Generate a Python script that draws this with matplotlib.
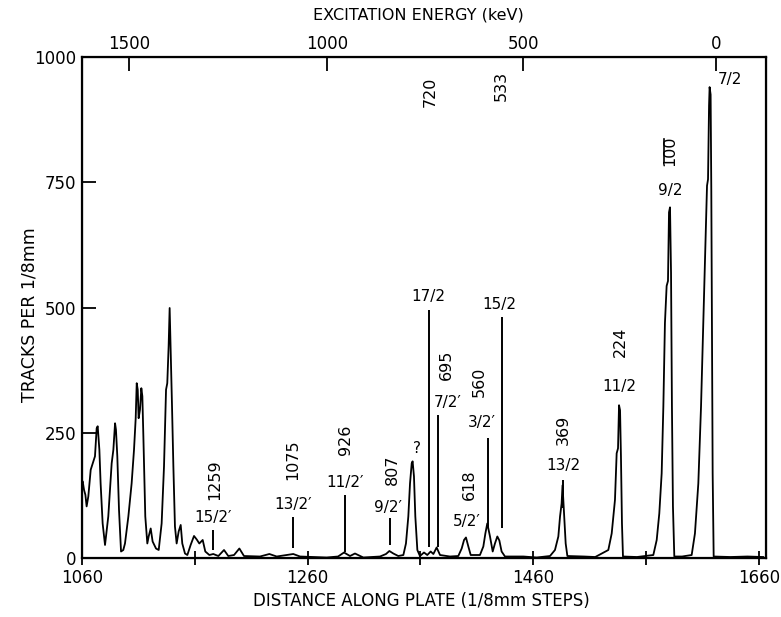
import numpy as np
import matplotlib
matplotlib.use('Agg')
from matplotlib import pyplot as plt

plt.rcParams['font.family'] = ['DejaVu Sans']

# spectrum: position (1/8mm steps), tracks per 1/8mm
dist = [1060.0, 1060.6, 1061.8, 1063.0, 1064.1, 1065.6, 1067.7, 1069.5, 1071.5, 1073.0,
        1073.9, 1075.4, 1076.5, 1078.3, 1080.4, 1083.3, 1086.3, 1087.8, 1089.3, 1090.1,
        1091.3, 1092.8, 1094.6, 1096.6, 1098.1, 1101.1, 1104.0, 1106.1, 1107.6, 1108.5,
        1109.4, 1110.2, 1111.4, 1112.6, 1113.5, 1114.4, 1116.1, 1117.9, 1119.1, 1120.9,
        1122.6, 1125.6, 1128.0, 1130.6, 1132.7, 1134.5, 1135.6, 1136.8, 1137.7, 1138.6,
        1139.8, 1141.0, 1142.4, 1143.9, 1145.7, 1147.5, 1148.9, 1151.3, 1153.4, 1156.3,
        1159.3, 1161.7, 1164.0, 1167.0, 1169.3, 1172.9, 1176.4, 1180.9, 1185.9, 1189.7,
        1194.8, 1199.5, 1203.6, 1217.8, 1226.1, 1232.6, 1241.4, 1247.3, 1253.3, 1276.9,
        1287.0, 1292.3, 1297.6, 1302.0, 1309.4, 1324.2, 1329.5, 1332.5, 1336.0, 1340.4,
        1344.9, 1347.2, 1349.3, 1350.8, 1352.3, 1353.1, 1354.3, 1355.5, 1357.3, 1359.6,
        1363.2, 1366.1, 1369.1, 1371.5, 1374.4, 1377.4, 1386.2, 1393.6, 1396.6, 1398.7,
        1400.4, 1402.5, 1404.6, 1412.8, 1415.8, 1417.6, 1419.3, 1421.7, 1424.1, 1426.1,
        1428.2, 1430.0, 1432.0, 1435.0, 1451.3, 1463.1, 1474.9, 1479.3, 1482.3, 1483.8,
        1485.2, 1486.0, 1486.6, 1487.3, 1488.8, 1490.3, 1505.0, 1515.0, 1526.6, 1529.6,
        1532.5, 1534.0, 1535.2, 1536.1, 1537.0, 1537.8, 1538.7, 1539.6, 1552.0, 1566.5,
        1569.5, 1571.8, 1573.9, 1575.4, 1576.8, 1578.3, 1579.5, 1580.4, 1581.3, 1582.2,
        1583.0, 1583.9, 1585.1, 1592.0, 1600.5, 1603.4, 1606.4, 1608.8, 1610.8, 1612.6,
        1614.1, 1615.0, 1615.9, 1616.4, 1617.3, 1617.9, 1618.5, 1619.1, 1620.0, 1635.0,
        1650.0, 1664.0]
tracks = [150, 153, 136, 126, 103, 123, 176, 189, 203, 259,
          263, 216, 149, 69, 26, 83, 189, 216, 269, 256,
          203, 96, 13, 16, 29, 83, 149, 216, 279, 349,
          336, 279, 296, 339, 323, 243, 83, 29, 43, 59,
          33, 19, 16, 69, 183, 336, 349, 423, 499, 416,
          303, 183, 63, 29, 53, 66, 29, 9, 6, 26,
          44, 37, 29, 36, 13, 6, 8, 4, 16, 4,
          6, 19, 4, 3, 8, 3, 6, 8, 3, 1,
          3, 11, 4, 9, 1, 3, 8, 14, 9, 4,
          6, 29, 83, 149, 189, 193, 163, 83, 16, 4,
          11, 6, 13, 8, 21, 6, 3, 4, 19, 36,
          41, 23, 6, 6, 23, 49, 69, 43, 13, 29,
          43, 35, 13, 3, 3, 1, 4, 16, 43, 83,
          109, 145, 120, 89, 29, 4, 3, 2, 16, 49,
          116, 209, 219, 305, 295, 203, 69, 3, 2, 6,
          36, 89, 169, 303, 469, 543, 553, 690, 700, 569,
          303, 103, 3, 3, 6, 49, 149, 303, 469, 623,
          743, 756, 903, 940, 925, 736, 436, 169, 3, 2,
          3, 2]

# excitation energy calibration (top scale)
energy_ticks = [1500, 1000, 500, 0]
energy_pos = [1101.7, 1277.2, 1451.0, 1622.1]

# level energies (rotated) and spins
lev_text = ['1259', '1075', '926', '807', '720', '695', '560', '618', '533', '369', '224', '100']
lev_x = [1177.9, 1247.0, 1294.0, 1335.4, 1368.5, 1383.3, 1412.0, 1403.1, 1431.4, 1486.4, 1537.0, 1581.3]
lev_y = [156, 196, 236, 176, 930, 386, 352, 146, 942, 256, 432, 813]

spin_text = ['15/2\u2032', '13/2\u2032', '11/2\u2032', '9/2\u2032', '?', '17/2', '7/2\u2032',
             '3/2\u2032', '5/2\u2032', '15/2', '13/2', '11/2', '9/2', '7/2']
spin_x = [1176.1, 1246.8, 1293.2, 1331.3, 1357.3, 1366.7, 1384.5, 1414.3, 1401.0, 1429.7,
          1486.4, 1536.3, 1581.3, 1634.5]
spin_y = [80, 106, 150, 100, 218, 522, 310, 270, 72, 506, 184, 342, 733, 956]

# marker lines for the weak groups
mark_x = [1176.4, 1246.8, 1293.2, 1333.0, 1367.6, 1375.9, 1419.9, 1432.1, 1486.1]
mark_top = [56, 82, 126, 80, 496, 286, 240, 482, 156]
mark_bot = [16, 20, 12, 26, 22, 22, 62, 60, 100]

fig = plt.figure(figsize=(7.81, 6.17), dpi=100)
ax = fig.add_axes([0.105, 0.0956, 0.8758, 0.812])

ax.plot(dist, tracks, color='black', lw=1.3)
ax.vlines(mark_x, mark_bot, mark_top, color='black', lw=1.4)
# little bar beside the "100"
ax.plot([1576.0, 1576.0], [790, 836], color='black', lw=1.2)

for t, x, y in zip(lev_text, lev_x, lev_y):
    ax.text(x, y, t, rotation=90, ha='center', va='center', fontsize=11.5)
for t, x, y in zip(spin_text, spin_x, spin_y):
    ax.text(x, y, t, ha='center', va='center', fontsize=11)

ax.set_xlim(1060, 1666.4)
ax.set_ylim(0, 1000)
ax.set_xticks([1060, 1260, 1460, 1660])
ax.set_xticks([1160, 1360, 1560], minor=True)
ax.set_yticks([0, 250, 500, 750, 1000])
ax.tick_params(axis='x', which='both', direction='inout', length=10, width=1.3,
               labelsize=12, pad=3, top=False)
ax.tick_params(axis='y', direction='in', length=10, width=1.3, labelsize=12, pad=4)
for s in ax.spines.values():
    s.set_linewidth(1.6)

ax2 = ax.twiny()
ax2.set_xlim(ax.get_xlim())
ax2.set_xticks(energy_pos)
ax2.set_xticklabels([str(e) for e in energy_ticks])
ax2.tick_params(axis='x', direction='in', length=10, width=1.3, labelsize=12, pad=3)

fig.text(421 / 781, 1 - 601 / 617, 'DISTANCE ALONG PLATE (1/8mm STEPS)',
         ha='center', va='center', fontsize=12)
fig.text(418 / 781, 1 - 15 / 617, 'EXCITATION ENERGY (keV)',
         ha='center', va='center', fontsize=11.5)
fig.text(30 / 781, 1 - 315 / 617, 'TRACKS PER 1/8mm', rotation=90,
         ha='center', va='center', fontsize=12.5)

fig.savefig('out.png', dpi=100)
